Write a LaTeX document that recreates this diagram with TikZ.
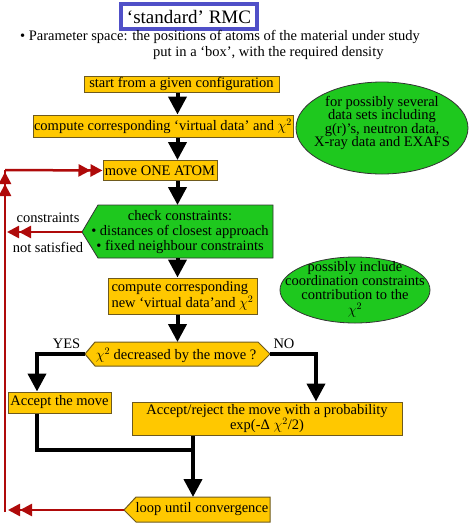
\documentclass[tikz,border=0pt]{standalone}
\usepackage{fontspec}
\setmainfont{Liberation Serif}
\usetikzlibrary{arrows.meta,shapes.geometric}
\definecolor{gold}{RGB}{255,200,0}
\definecolor{boxline}{RGB}{110,90,30}
\definecolor{lgreen}{RGB}{30,200,30}
\definecolor{dred}{RGB}{175,10,10}
\definecolor{tblue}{RGB}{80,80,200}
\begin{document}
\begin{tikzpicture}[x=1pt,y=-1pt,
  txt/.style={font=\fontsize{14.5}{14}\selectfont, inner sep=0pt},
  gbox/.style={txt, draw=boxline, fill=gold, line width=1pt, rectangle},
  gpoly/.style={draw=boxline, fill=gold, line width=1pt},
  grn/.style={draw=black!80, fill=lgreen, line width=0.8pt},
  bline/.style={line width=4pt, black},
  barrow/.style={bline, -{Triangle[length=18pt,width=18pt]}},
  rline/.style={line width=2.5pt, dred},
  rarrow/.style={rline, -{Triangle[length=12pt,width=12pt] Triangle[length=12pt,width=12pt]}}
]
\useasboundingbox (0,0) rectangle (469,523);
\fill[white] (0,0) rectangle (469,523);

% title
\node[draw=tblue, line width=4pt, minimum width=136, minimum height=25, inner sep=0pt,
      font=\fontsize{19}{19}\selectfont] (title) at (189,16.5) {‘standard’ RMC};
\node[txt, anchor=west] (bul1) at (20,37) {• Parameter space: the positions of atoms of the material under study};
\node[txt, anchor=west] (bul2) at (153,53) {put in a ‘box’, with the required density};

% main axis
\coordinate (ax) at (177.5,0);

% boxes
\node[gbox, minimum width=195, minimum height=16] (s1) at (181.5,84) {start from a given configuration};
\node[gbox, minimum width=260, minimum height=22] (s2) at (163,126) {compute corresponding ‘virtual data’ and $\chi^2$};
\node[gbox, minimum width=114, minimum height=20] (mv) at (160,170.5) {move ONE ATOM};

% ellipse 1
\node[ellipse, grn, minimum width=172, minimum height=92, inner sep=0pt] (e1) at (382,128) {};
\node[txt, align=center, font=\fontsize{14.5}{13.5}\selectfont] (e1t) at (382,123)
  {for possibly several\\data sets including\\g(r)’s, neutron data,\\X-ray data and EXAFS};

% check constraints (pentagon)
\draw[grn] (82,232) -- (98,205) -- (273,205) -- (273,258) -- (98,258) -- cycle;
\coordinate (chkw) at (82,232);
\coordinate (chkn) at (177.5,205);
\coordinate (chks) at (177.5,258);
\node[txt, align=center, font=\fontsize{14.5}{15}\selectfont] (chk) at (180,232)
  {check constraints:\\• distances of closest approach\\• fixed neighbour constraints};

% compute new
\node[gbox, minimum width=149, minimum height=36, align=left] (s3) at (182.5,296)
  {compute corresponding\\new ‘virtual data’and $\chi^2$};

% ellipse 2
\node[ellipse, grn, minimum width=150, minimum height=66, inner sep=0pt] (e2) at (355,290) {};
\node[txt, align=center, font=\fontsize{14.5}{14}\selectfont] (e2t) at (355,289.5)
  {possibly include\\coordination constraints\\contribution to the\\[1.5pt]$\chi^2$};

% decision hexagon
\draw[gpoly] (85,354) -- (95,342) -- (258,342) -- (270,354) -- (258,366) -- (95,366) -- cycle;
\coordinate (decw) at (85,354);
\coordinate (dece) at (270,354);
\coordinate (decn) at (177.5,342);
\node[txt] (dec) at (176,355) {$\chi^2$ decreased by the move ?};
\node[txt] (yes) at (66.5,344) {YES};
\node[txt] (no) at (284,344) {NO};

% accept / reject
\node[gbox, minimum width=103, minimum height=21] (acc) at (59.5,402.5) {Accept the move};
\node[gbox, minimum width=270, minimum height=33, align=center] (rej) at (267,418.5)
  {Accept/reject the move with a probability\\exp(-Δ $\chi^2$/2)};

% loop pentagon
\draw[gpoly] (124,510) -- (136,497) -- (270,497) -- (270,522) -- (136,522) -- cycle;
\coordinate (loopw) at (124,510);
\coordinate (loopn) at (193,497);
\node[txt] (loop) at (202,509.5) {loop until convergence};

% black connectors
\draw[barrow] (s1.south -| ax) -- (s2.north -| ax);
\draw[barrow] (s2.south -| ax) -- (mv.north -| ax);
\draw[barrow] (mv.south -| ax) -- (chkn);
\draw[barrow] (chks) -- (s3.north -| ax);
\draw[barrow] (s3.south -| ax) -- (decn);
\coordinate (yx) at (37,0);
\coordinate (nx) at (316,0);
\coordinate (jn) at (193,450);
\draw[barrow] (decw) -| (acc.north -| yx);
\draw[barrow] (dece) -| (rej.north -| nx);
\draw[bline] (acc.south -| yx) |- (jn);
\draw[barrow] (rej.south -| jn) -- (loopn);

% red connectors
\coordinate (rtop) at (5,170);
\draw[rarrow] (loopw) -- (8,510);
\draw[rarrow] (5,512) -- (5,172);
\draw[rline] (rtop) -- (5,182);
\draw[rarrow] (rtop) -- (mv.west);
\draw[rarrow] (chkw) -- (7,232);
\node[txt] (cons) at (48,218) {constraints};
\node[txt] (nots) at (48,247) {not satisfied};
\end{tikzpicture}
\end{document}
